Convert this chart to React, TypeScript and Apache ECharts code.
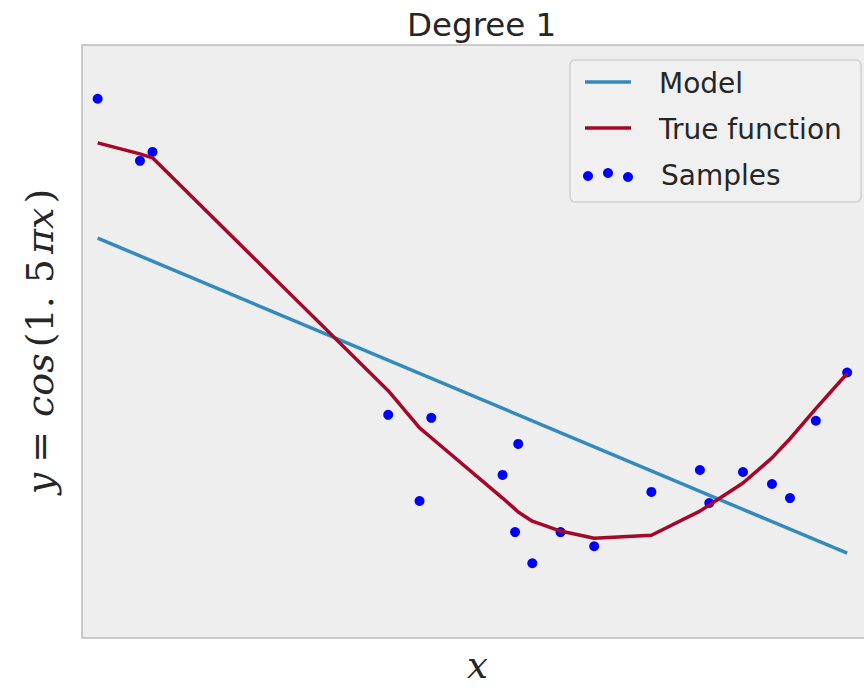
import React, { useEffect, useRef } from "react";
import * as echarts from "echarts";

// Samples (x sorted), true function at the sample x's, and the degree-1 model
const sampleX = [0.000, 0.054, 0.070, 0.371, 0.411, 0.426, 0.517, 0.533, 0.537, 0.555, 0.591, 0.634, 0.707, 0.769, 0.781, 0.824, 0.861, 0.884, 0.917, 0.957];
const sampleY = [1.228, 0.914, 0.959, -0.371, -0.807, -0.386, -0.675, -0.964, -0.518, -1.122, -0.964, -1.036, -0.761, -0.650, -0.817, -0.660, -0.721, -0.792, -0.401, -0.157];
const trueY = [1.005, 0.949, 0.929, -0.249, -0.437, -0.487, -0.792, -0.848, -0.863, -0.909, -0.959, -0.995, -0.980, -0.858, -0.827, -0.716, -0.589, -0.492, -0.340, -0.162];
const modelX = [0.000, 0.957];
const modelY = [0.523, -1.071];

const titleText = "Degree 1";
const legendLabels = ["Model", "True function", "Samples"];

const BLUE = "#348ABD";
const RED = "#A60628";
const DOT = "#0000ff";

export default function App() {
  const ref = useRef<HTMLDivElement>(null);
  useEffect(() => {
    if (!ref.current) return;
    const chart = echarts.init(ref.current, null, { renderer: "svg" });
    const samples = sampleX.map((x, i) => [x, sampleY[i]]);
    const truth = sampleX.map((x, i) => [x, trueY[i]]);
    const model = modelX.map((x, i) => [x, modelY[i]]);
    const legendFont = "28px 'DejaVu Sans'";
    const mathFont = "DejaVu Serif";
    const mathSize = 38;
    const base = { fontFamily: mathFont, fontSize: mathSize, color: "#262626" };
    chart.setOption({
      animation: false,
      backgroundColor: "#ffffff",
      title: {
        text: titleText,
        left: 402,
        top: 3,
        textStyle: { fontFamily: "DejaVu Sans", fontSize: 32.5, fontWeight: "normal", color: "#262626" },
      },
      grid: {
        left: 82,
        right: 7,
        top: 45,
        bottom: 50,
        outerBoundsMode: "none",
        containLabel: false,
        show: true,
        backgroundColor: "#eeeeee",
        borderColor: "#bcbcbc",
        borderWidth: 1.5,
      },
      xAxis: {
        type: "value",
        min: -0.02,
        max: 0.99,
        axisLine: { show: false },
        axisTick: { show: false },
        axisLabel: { show: false },
        splitLine: { show: false },
        name: "x",
        nameLocation: "middle",
        nameGap: 27,
        nameTextStyle: { fontFamily: mathFont, fontSize: 37, color: "#262626", fontStyle: "italic", verticalAlign: "middle" },
      },
      yAxis: {
        type: "value",
        min: -1.5,
        max: 1.5,
        axisLine: { show: false },
        axisTick: { show: false },
        axisLabel: { show: false },
        splitLine: { show: false },
        name: "{i|y}{s|=}{c|cos}{q|(1.}{p|5}{i|πx}{r|)}",
        nameLocation: "middle",
        nameRotate: 90,
        nameGap: 23,
        nameTextStyle: {
          color: "#262626",
          rich: {
            i: { ...base, fontStyle: "italic" },
            c: { ...base, fontStyle: "italic", padding: [0, 2, 0, 0] },
            n: { ...base },
            s: { ...base, padding: [0, 14, 0, 10] },
            q: { ...base, padding: [0, 0, 0, 4] },
            p: { ...base, padding: [0, 5, 0, 13] },
            r: { ...base, padding: [0, 0, 0, 4] },
          },
        },
      },
      series: [
        {
          name: "Samples",
          type: "scatter",
          data: samples,
          symbol: "circle",
          symbolSize: 10,
          itemStyle: { color: DOT, opacity: 1 },
          z: 1,
        },
        {
          name: "Model",
          type: "line",
          data: model,
          showSymbol: false,
          lineStyle: { color: BLUE, width: 3.5 },
          z: 2,
        },
        {
          name: "True function",
          type: "line",
          data: truth,
          showSymbol: false,
          lineStyle: { color: RED, width: 3.5 },
          z: 3,
        },
      ],
      graphic: [
        {
          type: "group",
          z: 100,
          children: [
            {
              type: "rect",
              shape: { x: 570, y: 60, width: 291, height: 142, r: 5 },
              style: { fill: "#f0f0f0", stroke: "#cfcfcf", lineWidth: 1.5 },
            },
            { type: "line", shape: { x1: 585, y1: 82, x2: 631, y2: 82 }, style: { stroke: BLUE, lineWidth: 3.5 } },
            { type: "line", shape: { x1: 585, y1: 128, x2: 631, y2: 128 }, style: { stroke: RED, lineWidth: 3.5 } },
            { type: "circle", shape: { cx: 588, cy: 176, r: 5 }, style: { fill: DOT } },
            { type: "circle", shape: { cx: 608, cy: 173, r: 5 }, style: { fill: DOT } },
            { type: "circle", shape: { cx: 628, cy: 177, r: 5 }, style: { fill: DOT } },
            { type: "text", x: 659, y: 83, style: { text: legendLabels[0], font: legendFont, fill: "#262626", verticalAlign: "middle" } },
            { type: "text", x: 659, y: 129, style: { text: legendLabels[1], font: legendFont, fill: "#262626", verticalAlign: "middle" } },
            { type: "text", x: 661, y: 175, style: { text: legendLabels[2], font: legendFont, fill: "#262626", verticalAlign: "middle" } },
          ],
        },
      ],
    });
    return () => chart.dispose();
  }, []);
  return (
    <div style={{ position: "fixed", left: 0, top: 0, width: 864, height: 688, overflow: "hidden" }}>
      <div ref={ref} style={{ width: 880, height: 688 }} />
    </div>
  );
}
